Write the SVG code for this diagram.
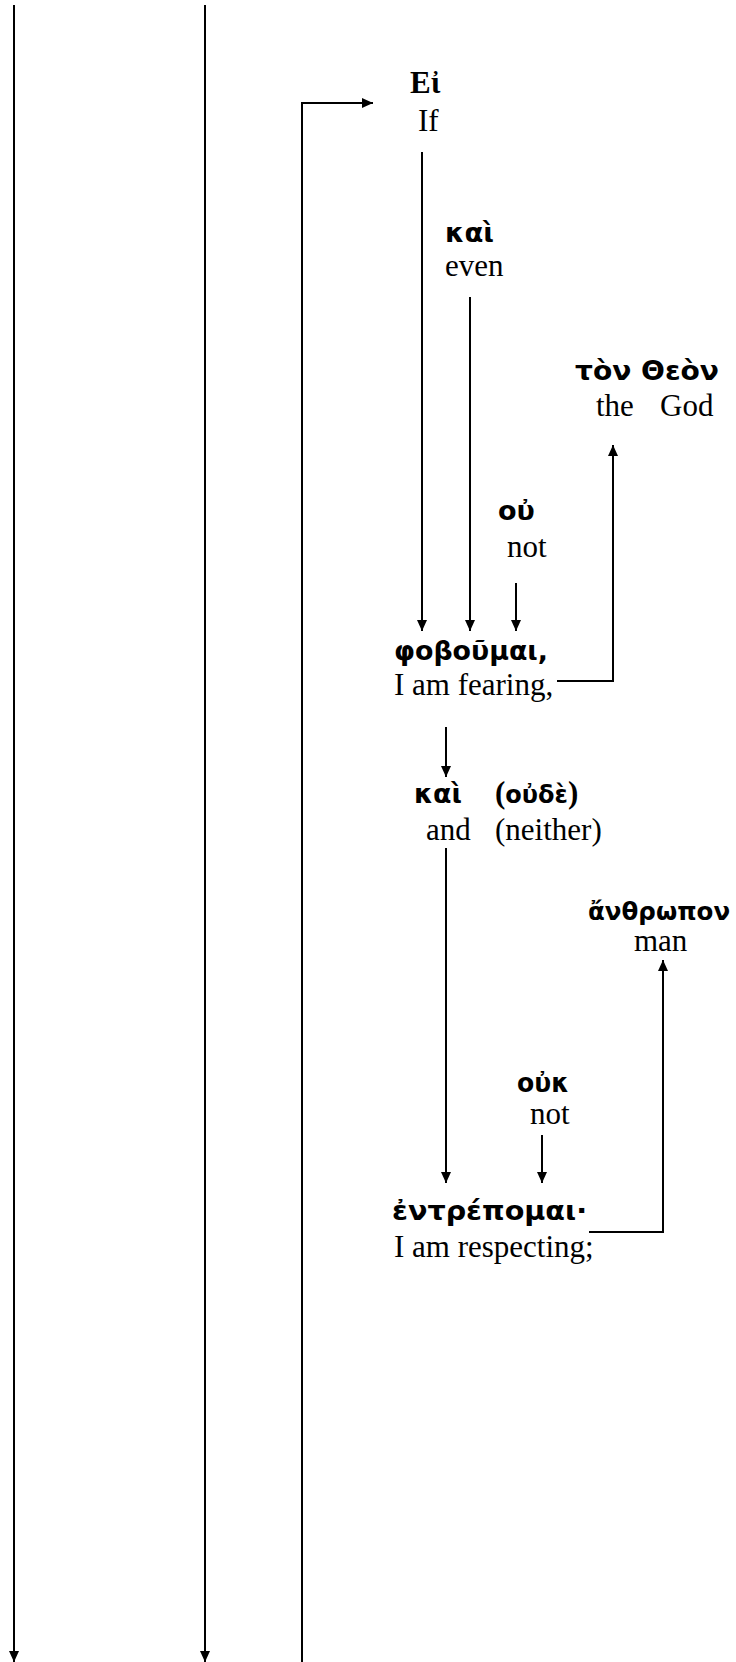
<svg xmlns="http://www.w3.org/2000/svg" width="736" height="1662" viewBox="0 0 736 1662">
<style>
.en{font-family:"Liberation Serif","Times New Roman",serif;font-size:31px;fill:#000}
.gr{font-family:"DejaVu Sans","Noto Sans",sans-serif;font-weight:bold;font-size:27px;fill:#000}
.sb{font-family:"Liberation Serif","DejaVu Serif",serif;font-weight:bold;font-size:31px;fill:#000}
.ar{stroke:#000;stroke-width:2;fill:none;marker-end:url(#ah)}
</style>
<defs>
<marker id="ah" markerUnits="userSpaceOnUse" markerWidth="11" markerHeight="10" refX="11" refY="5" orient="auto">
<path d="M0,0 L11,5 L0,10 z" fill="#000"/>
</marker>
</defs>
<rect width="736" height="1662" fill="#fff"/>
<g id="connectors">
<line class="ar" x1="14" y1="5" x2="14" y2="1662"/>
<line class="ar" x1="205" y1="5" x2="205" y2="1662"/>
<polyline class="ar" points="302,1662 302,103 373,103"/>
<line class="ar" x1="422" y1="152" x2="422" y2="631"/>
<line class="ar" x1="470" y1="297" x2="470" y2="631"/>
<line class="ar" x1="516" y1="583" x2="516" y2="631"/>
<polyline class="ar" points="557,681 613,681 613,445"/>
<line class="ar" x1="446" y1="727" x2="446" y2="777"/>
<line class="ar" x1="446" y1="848" x2="446" y2="1183"/>
<line class="ar" x1="542" y1="1135" x2="542" y2="1183"/>
<polyline class="ar" points="589,1232 663,1232 663,960"/>
</g>
<g id="n-ei">
<text class="sb" x="410" y="93">Eἰ</text>
<text class="en" x="418" y="131">If</text>
</g>
<g id="n-kai1">
<text class="gr" x="445" y="242" textLength="49" lengthAdjust="spacingAndGlyphs">καὶ</text>
<text class="en" x="445" y="276">even</text>
</g>
<g id="n-theon">
<text class="gr" x="575" y="380" textLength="144" lengthAdjust="spacingAndGlyphs">τὸν Θεὸν</text>
<text class="en" x="596" y="416">the</text>
<text class="en" x="660" y="416">God</text>
</g>
<g id="n-ou">
<text class="gr" x="498" y="520">οὐ</text>
<text class="en" x="507" y="557">not</text>
</g>
<g id="n-phob">
<text class="gr" x="394" y="660" textLength="154" lengthAdjust="spacingAndGlyphs">φοβοῦμαι,</text>
<text class="en" x="394" y="695">I am fearing,</text>
</g>
<g id="n-kai2">
<text class="gr" x="414" y="803" textLength="48" lengthAdjust="spacingAndGlyphs">καὶ</text>
<text class="en" x="426" y="840">and</text>
</g>
<g id="n-oude">
<text class="sb" x="495" y="803">(<tspan class="gr" style="font-size:24px">οὐδὲ</tspan>)</text>
<text class="en" x="495" y="840">(neither)</text>
</g>
<g id="n-anthropon">
<text class="gr" x="588" y="920" style="font-size:24.5px">ἄνθρωπον</text>
<text class="en" x="634" y="951">man</text>
</g>
<g id="n-ouk">
<text class="gr" x="517" y="1092" textLength="52" lengthAdjust="spacingAndGlyphs">οὐκ</text>
<text class="en" x="530" y="1124">not</text>
</g>
<g id="n-entrep">
<text class="gr" x="392" y="1220" textLength="195" lengthAdjust="spacingAndGlyphs">ἐντρέπομαι·</text>
<text class="en" x="394" y="1257">I am respecting;</text>
</g>
</svg>
